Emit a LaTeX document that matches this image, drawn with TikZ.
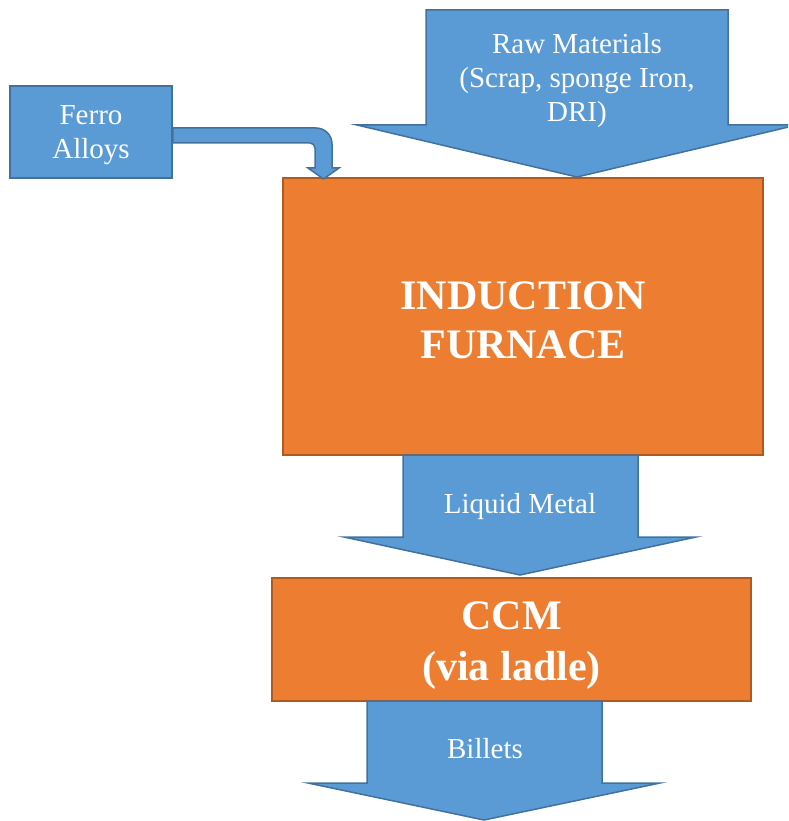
\documentclass[tikz,border=0pt]{standalone}
\usepackage{fontspec}
\setmainfont{Liberation Serif}
\usetikzlibrary{positioning}
\definecolor{boxblue}{HTML}{5B9BD5}
\definecolor{lineblue}{HTML}{41719C}
\definecolor{boxorange}{HTML}{ED7D31}
\definecolor{lineorange}{HTML}{AE5A21}
\tikzset{
	bluebox/.style={draw=lineblue,fill=boxblue,line width=1.5pt,line join=miter},
	orangebox/.style={draw=lineorange,fill=boxorange,line width=1.5pt,text=white,align=center,
		font=\fontsize{42}{49}\selectfont\bfseries},
	smalltxt/.style={text=white,align=center,font=\fontsize{29}{34}\selectfont}
}
\begin{document}
\begin{tikzpicture}[x=1pt,y=-1pt]
	\useasboundingbox (0,0) rectangle (788,821);
	\clip (0,0) rectangle (788,821);
	% boxes
	\node[bluebox,smalltxt,minimum width=162pt,minimum height=92pt] at (91,132) (ferro) {};
	\node[orangebox,minimum width=480pt,minimum height=277pt] at (523,316.5) (furnace) {};
	\node[orangebox,minimum width=479pt,minimum height=123pt] at (511.5,639.5) (ccm) {};
	% block arrows
	\draw[bluebox] (426,10) -- (728,10) -- (728,125) -- (797,125) -- (577,177) -- (357,125) -- (426,125) -- cycle;
	\draw[bluebox] (403,455) -- (638,455) -- (638,537) -- (696,537) -- (520,575) -- (344,537) -- (403,537) -- cycle;
	\draw[bluebox] (367,701) -- (602,701) -- (602,783) -- (660,783) -- (484,820) -- (308,783) -- (367,783) -- cycle;
	\draw[bluebox] (ferro.east |- 0,128) -- (316,128) arc[start angle=-90,end angle=0,radius=16]
		-- (332,168) -- (339,168) -- (323.5,179) -- (308,168) -- (315,168) -- (315,148)
		arc[start angle=0,end angle=-90,radius=5] -- (ferro.east |- 0,143) -- cycle;
	% texts
	\node[smalltxt] at (91,135) (ferrotxt) {Ferro\\Alloys};
	\node[orangebox,draw=none,fill=none] at (523,320) (furnacetxt) {INDUCTION\\FURNACE};
	\node[orangebox,draw=none,fill=none,font=\fontsize{42}{51}\selectfont\bfseries] at (511.5,646) (ccmtxt) {CCM\\(via ladle)};
	\node[smalltxt] at (577,81) (raw) {Raw Materials\\(Scrap, sponge Iron,\\DRI)};
	\node[smalltxt] at (520,507) (liquid) {Liquid Metal};
	\node[smalltxt] at (485,749) (billets) {Billets};
\end{tikzpicture}
\end{document}
